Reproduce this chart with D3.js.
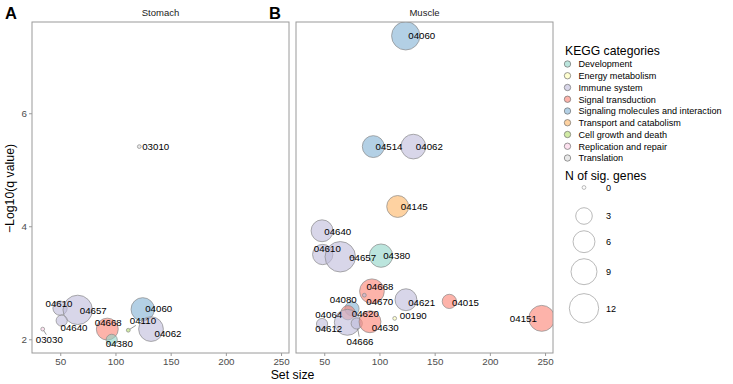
<!DOCTYPE html>
<html>
<head>
<meta charset="utf-8">
<script src="https://cdn.jsdelivr.net/npm/d3@7/dist/d3.min.js"></script>
<style>
  html, body { margin: 0; padding: 0; background: #fff; }
  svg { display: block; font-family: "Liberation Sans", Arial, sans-serif; }
</style>
</head>
<body>
<svg id="chart" width="733" height="384"></svg>
<script>
// ---------------- DATA ----------------
const categories = [
  "Development", "Energy metabolism", "Immune system", "Signal transduction",
  "Signaling molecules and interaction", "Transport and catabolism",
  "Cell growth and death", "Replication and repair", "Translation"
];
const xTicks = [50, 100, 150, 200, 250];
const yTicks = [2, 4, 6];
const sizeBreaks = [0, 3, 6, 9, 12];

// Stomach panel
const stomachIds      = ["03010", "04610", "04657", "04640", "03030", "04668", "04380", "04110", "04060", "04062"];
const stomachSetSize  = [121.6, 49.8, 65.8, 51.3, 34.1, 92.6, 96.6, 111.6, 124.7, 132.2];
const stomachLogQ     = [5.41, 2.55, 2.52, 2.33, 2.18, 2.18, 1.99, 2.16, 2.53, 2.18];
const stomachNSig     = [0, 2, 12, 1, 0, 6, 1, 0, 7, 8];
const stomachCategory = ["Translation", "Immune system", "Immune system", "Immune system",
  "Replication and repair", "Signal transduction", "Development", "Cell growth and death",
  "Signaling molecules and interaction", "Immune system"];

// Muscle panel
const muscleIds      = ["04060", "04514", "04062", "04145", "04640", "04610", "04657", "04380",
  "04668", "04670", "04621", "04015", "04151", "04080", "04064", "04612", "04620", "04666", "04630", "00190"];
const muscleSetSize  = [123.8, 94.4, 130.7, 116.5, 48.0, 48.6, 64.5, 101.4,
  93.2, 86.3, 124.0, 163.3, 247.0, 75.1, 71.5, 48.0, 70.9, 79.4, 91.4, 113.8];
const muscleLogQ     = [7.37, 5.41, 5.41, 4.35, 3.92, 3.50, 3.46, 3.48,
  2.85, 2.78, 2.70, 2.67, 2.37, 2.54, 2.47, 2.27, 2.30, 2.28, 2.31, 2.37];
const muscleNSig     = [11, 6, 8, 6, 6, 5, 13, 7,
  8, 0, 6, 2, 9, 2, 2, 1, 9, 1, 6, 0];
const muscleCategory = ["Signaling molecules and interaction", "Signaling molecules and interaction",
  "Immune system", "Transport and catabolism", "Immune system", "Immune system", "Immune system",
  "Development", "Signal transduction", "Immune system", "Immune system", "Signal transduction",
  "Signal transduction", "Signaling molecules and interaction", "Signal transduction",
  "Immune system", "Immune system", "Immune system", "Signal transduction", "Energy metabolism"];

// ---------------- LAYOUT / STYLE ----------------
const palette = ["#8DD3C7", "#FFFFB3", "#BEBADA", "#FB8072", "#80B1D3", "#FDB462", "#B3DE69", "#FCCDE5", "#D9D9D9"];
// label offsets (dx, dy) from the point, and whether a leader segment is drawn
const stomachLabelPos = {
  "03010": [16.4, 0], "04610": [-1, -5], "04657": [15.6, 1], "04640": [12.3, 6.6],
  "03030": [6.6, 10, 1], "04668": [1, -6.6], "04380": [7.6, 4], "04110": [14.7, -9.3, 1],
  "04060": [16, -1], "04062": [17, 4]
};
const muscleLabelPos = {
  "04060": [16, 0], "04514": [15.7, 0], "04062": [16, 0], "04145": [16.6, 0],
  "04640": [15.7, 1], "04610": [4.6, -6], "04657": [22.4, 1, 1], "04380": [15.7, 0],
  "04668": [8, -4.3], "04670": [15.4, 6], "04621": [15.7, 2.7], "04015": [16.2, 0.6],
  "04151": [-18.4, 0], "04080": [-8.7, -9], "04064": [-19.3, 1.3], "04612": [6.7, 4.3],
  "04620": [18, -9], "04666": [3.3, 17.7, 1], "04630": [15.3, 6], "00190": [18.6, -3.3]
};

const svg = d3.select("#chart");
const panelW = 257, panelH = 331, panelTop = 22;
const panels = [
  { name: "Stomach", letter: "A", left: 32, ids: stomachIds, xs: stomachSetSize, ys: stomachLogQ,
    ns: stomachNSig, cats: stomachCategory, labels: stomachLabelPos, yAxis: true },
  { name: "Muscle", letter: "B", left: 296, ids: muscleIds, xs: muscleSetSize, ys: muscleLogQ,
    ns: muscleNSig, cats: muscleCategory, labels: muscleLabelPos, yAxis: false }
];

const x = d3.scaleLinear().domain([24.4, 257.2]).range([0, panelW]);
const y = d3.scaleLinear().domain([1.757, 7.615]).range([panelH, 0]);
const r = d3.scaleSqrt().domain([0, 12]).range([1.9, 14.7]);
const color = d3.scaleOrdinal().domain(categories).range(palette);

const tickColor = "#4d4d4d";
const borderColor = "#9a9a9a";

panels.forEach(p => {
  svg.append("text").attr("x", p.left - 27).attr("y", 18.5)
    .attr("font-size", 16.5).attr("font-weight", "bold").attr("fill", "#000").text(p.letter);
  svg.append("text").attr("x", p.left + panelW / 2).attr("y", 15.5)
    .attr("text-anchor", "middle").attr("font-size", 9.5).attr("fill", "#1a1a1a").text(p.name);

  const g = svg.append("g").attr("transform", `translate(${p.left},${panelTop})`);

  const xa = g.append("g").attr("transform", `translate(0,${panelH})`)
    .call(d3.axisBottom(x).tickValues(xTicks).tickSize(3).tickPadding(2).tickFormat(d3.format("d")));
  xa.select(".domain").remove();
  xa.selectAll("line").attr("stroke", borderColor);
  xa.selectAll("text").attr("font-size", 9.8).attr("fill", tickColor)
    .attr("font-family", "Liberation Sans, Arial, sans-serif");

  if (p.yAxis) {
    const ya = g.append("g")
      .call(d3.axisLeft(y).tickValues(yTicks).tickSize(3).tickPadding(2).tickFormat(d3.format("d")));
    ya.select(".domain").remove();
    ya.selectAll("line").attr("stroke", borderColor);
    ya.selectAll("text").attr("font-size", 9.8).attr("fill", tickColor)
      .attr("font-family", "Liberation Sans, Arial, sans-serif");
  }

  const data = p.ids.map((id, i) => ({ id, sx: p.xs[i], sy: p.ys[i], n: p.ns[i], cat: p.cats[i] }));

  const clip = "clip-" + p.name;
  g.append("clipPath").attr("id", clip).append("rect").attr("width", panelW).attr("height", panelH);
  const pts = g.append("g").attr("clip-path", `url(#${clip})`);

  pts.selectAll("circle").data(data).enter().append("circle")
    .attr("cx", d => x(d.sx)).attr("cy", d => y(d.sy)).attr("r", d => r(d.n))
    .attr("fill", d => color(d.cat)).attr("fill-opacity", 0.6)
    .attr("stroke", "#8a8a8a").attr("stroke-width", 0.7);

  // leader segments: from circle edge to label box edge
  data.forEach(d => {
    const L = p.labels[d.id];
    if (L && L[2]) {
      const px = x(d.sx), py = y(d.sy);
      const dx = L[0], dy = L[1];
      const hw = 13.5, hh = 4.5;
      const f = Math.max(0, Math.max((Math.abs(dx) - hw) / (Math.abs(dx) || 1), (Math.abs(dy) - hh) / (Math.abs(dy) || 1)));
      const rr = r(d.n);
      const len = Math.hypot(dx, dy);
      g.append("line")
        .attr("x1", px + dx / len * Math.min(rr, len)).attr("y1", py + dy / len * Math.min(rr, len))
        .attr("x2", px + dx * f).attr("y2", py + dy * f)
        .attr("stroke", "#555").attr("stroke-width", 0.6);
    }
  });

  g.selectAll("text.lab").data(data).enter().append("text").attr("class", "lab")
    .attr("x", d => x(d.sx) + (p.labels[d.id] ? p.labels[d.id][0] : 0))
    .attr("y", d => y(d.sy) + (p.labels[d.id] ? p.labels[d.id][1] : 0))
    .attr("dy", "0.36em").attr("text-anchor", "middle")
    .attr("font-size", 9.7).attr("fill", "#000").text(d => d.id);

  g.append("rect").attr("width", panelW).attr("height", panelH)
    .attr("fill", "none").attr("stroke", borderColor).attr("stroke-width", 1);
});

// axis titles
svg.append("text").attr("x", (32 + 296 + panelW) / 2).attr("y", 379)
  .attr("text-anchor", "middle").attr("font-size", 12.3).attr("fill", "#000").text("Set size");
svg.append("text").attr("transform", `translate(13.5,${panelTop + panelH / 2 + 1}) rotate(-90)`)
  .attr("text-anchor", "middle").attr("font-size", 12.3).attr("fill", "#000").text("\u2212Log10(q value)");

// legend: categories
const lg = svg.append("g");
lg.append("text").attr("x", 565).attr("y", 54.5).attr("font-size", 12.2).attr("fill", "#000").text("KEGG categories");
categories.forEach((c, i) => {
  const cy = 64 + i * 11.75;
  lg.append("circle").attr("cx", 567.5).attr("cy", cy).attr("r", 3.2)
    .attr("fill", color(c)).attr("fill-opacity", 0.6).attr("stroke", "#707070").attr("stroke-width", 0.7);
  lg.append("text").attr("x", 578.5).attr("y", cy).attr("dy", "0.36em")
    .attr("font-size", 9.1).attr("fill", "#000").text(c);
});

// legend: sizes
lg.append("text").attr("x", 565).attr("y", 179.5).attr("font-size", 12.2).attr("fill", "#000").text("N of sig. genes");
const sizeY = [187.5, 216, 241.7, 271.7, 308.3];
sizeBreaks.forEach((n, i) => {
  lg.append("circle").attr("cx", 584).attr("cy", sizeY[i]).attr("r", r(n))
    .attr("fill", "#fff").attr("stroke", "#a8a8a8").attr("stroke-width", 0.8);
  lg.append("text").attr("x", 606).attr("y", sizeY[i]).attr("dy", "0.36em")
    .attr("font-size", 9.1).attr("fill", "#000").text(n);
});
</script>
</body>
</html>
